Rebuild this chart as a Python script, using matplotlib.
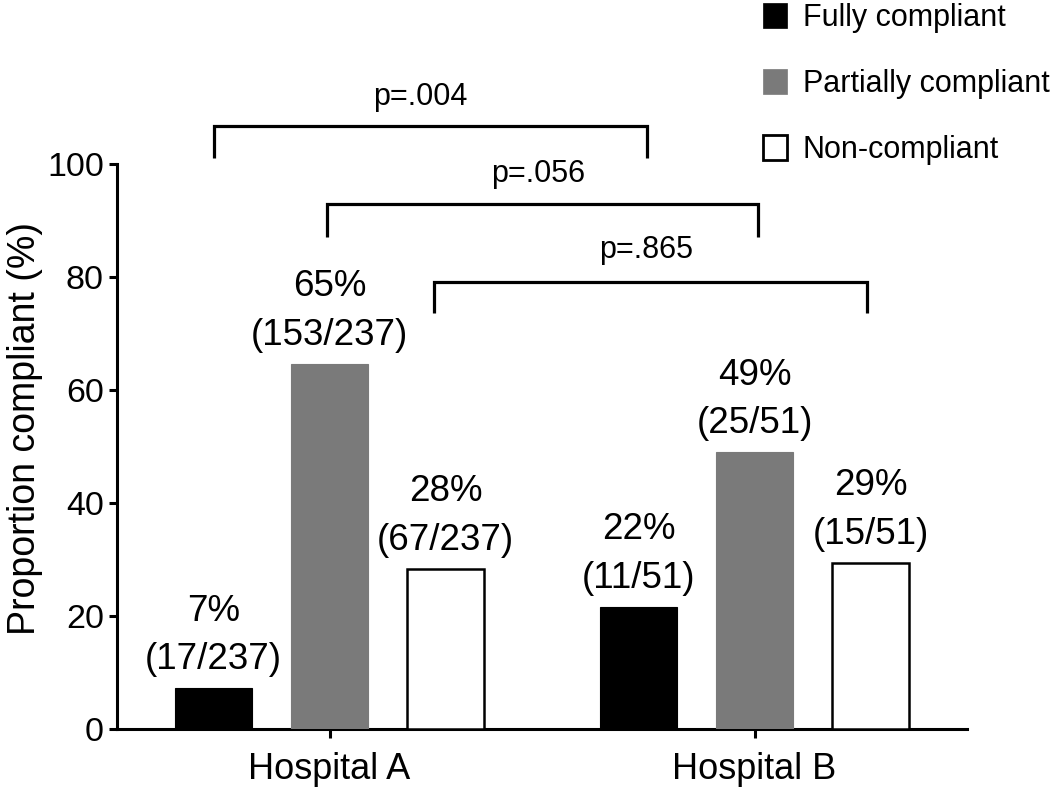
import matplotlib
matplotlib.use("Agg")
import matplotlib.pyplot as plt
from matplotlib.patches import Patch
import numpy as np

plt.rcParams['font.family'] = ['Liberation Sans', 'DejaVu Sans']

# ---- data ----
hospitals = ["Hospital A", "Hospital B"]
series_names = ["Fully compliant", "Partially compliant", "Non-compliant"]
fully = [7.2, 21.6]
partial = [64.6, 49.0]
noncomp = [28.3, 29.4]
pct_fully = ["7%", "22%"]
pct_partial = ["65%", "49%"]
pct_noncomp = ["28%", "29%"]
frac_fully = ["(17/237)", "(11/51)"]
frac_partial = ["(153/237)", "(25/51)"]
frac_noncomp = ["(67/237)", "(15/51)"]

p_labels = ["p=.004", "p=.056", "p=.865"]
bracket_left = [-0.271, -0.005, 0.247]
bracket_right = [0.746, 1.009, 1.264]
bracket_top = [106.7, 92.9, 79.1]
bracket_bottom = [101.1, 87.1, 73.6]
p_x = [0.214, 0.492, 0.746]
p_y = [110.4, 96.8, 83.4]

yticks = [0, 20, 40, 60, 80, 100]

# ---- styles ----
face_colors = ["#000000", "#7a7a7a", "#ffffff"]
edge_colors = ["#000000", "#7a7a7a", "#000000"]
edge_widths = [0.8, 0.8, 1.8]
offsets = [-0.273, 0.0, 0.273]
bar_w = 0.182

fig = plt.figure(figsize=(10.5, 7.89), dpi=100)
ax = fig.add_axes([117 / 1050, 1 - 729 / 789, 850 / 1050, 565 / 789])

x = np.arange(len(hospitals))
values = [fully, partial, noncomp]
pcts = [pct_fully, pct_partial, pct_noncomp]
fracs = [frac_fully, frac_partial, frac_noncomp]

handles = []
for i, (vals, name) in enumerate(zip(values, series_names)):
    bars = ax.bar(x + offsets[i], vals, width=bar_w, color=face_colors[i],
                  edgecolor=edge_colors[i], linewidth=edge_widths[i], zorder=3)
    for j, b in enumerate(bars):
        ax.annotate(pcts[i][j] + "\n" + fracs[i][j],
                    xy=(b.get_x() + b.get_width() / 2, vals[j]),
                    xytext=(0, 8), textcoords="offset points",
                    ha="center", va="bottom", fontsize=26.5, linespacing=1.5,
                    multialignment="center")
    handles.append(Patch(facecolor=face_colors[i], edgecolor=edge_colors[i],
                         linewidth=2 if i == 2 else 0.5, label=name))

# brackets
for xl, xr, yt, yb, lab, tx, ty in zip(bracket_left, bracket_right, bracket_top,
                                       bracket_bottom, p_labels, p_x, p_y):
    ax.plot([xl, xl, xr, xr], [yb, yt, yt, yb], color="black", lw=2.3,
            clip_on=False, solid_joinstyle="miter", solid_capstyle="butt")
    ax.text(tx, ty, lab, ha="center", va="baseline", fontsize=22)

ax.set_xlim(-0.5, 1.5)
ax.set_ylim(0, 100)
ax.set_yticks(yticks)
ax.set_xticks(x)
ax.set_xticklabels(hospitals)

for s in ["top", "right"]:
    ax.spines[s].set_visible(False)
for s in ["left", "bottom"]:
    ax.spines[s].set_linewidth(2.2)

ax.tick_params(axis="y", length=5.5, width=2.2, labelsize=24.5, pad=4)
ax.tick_params(axis="x", length=6.5, width=2.2, labelsize=26, pad=10)

ax.set_ylabel("Proportion compliant (%)", fontsize=27)
ax.yaxis.set_label_coords(-0.087, 0.531)

leg = ax.legend(handles=handles, loc="upper left",
                bbox_to_anchor=(763 / 1050, 1 - 3 / 789),
                bbox_transform=fig.transFigure, frameon=False, fontsize=22,
                handlelength=0.8, handleheight=0.85, handletextpad=0.5,
                labelspacing=1.18, borderpad=0, borderaxespad=0)

fig.savefig("out.png", dpi=100)
